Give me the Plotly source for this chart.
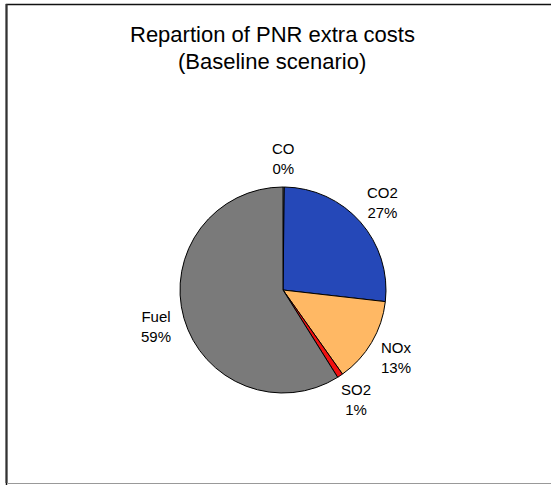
import math

import plotly.graph_objects as go

# Data
labels = ["CO", "CO2", "NOx", "SO2", "Fuel"]
values = [0.2, 26.6, 13.4, 0.9, 58.9]
colors = ["#FFFFFF", "#2548B8", "#FFB864", "#F01010", "#7A7A7A"]
title_lines = ["Repartion of PNR extra costs", "(Baseline scenario)"]

W, H = 551, 485
FONT = "Liberation Sans, Arial, sans-serif"

cx, cy = 283, 290  # pie centre in px
r = 103
label_dist = 132  # distance of label centres from the pie centre, px


def px(x):
    return x / W


def py(y):
    return 1 - y / H


fig = go.Figure()
fig.add_trace(go.Pie(
    labels=labels,
    values=values,
    sort=False,
    direction="clockwise",
    rotation=0,
    marker=dict(colors=colors, line=dict(color="#000000", width=1)),
    textinfo="none",
    hoverinfo="label+percent",
    showlegend=False,
    domain=dict(x=[px(cx - r), px(cx + r)], y=[py(cy + r), py(cy - r)]),
))

# Excel-style labels sitting outside each slice's mid angle
total = sum(values)
annotations = []
acc = 0.0
for lab, v in zip(labels, values):
    mid = (acc + v / 2) / total * 2 * math.pi
    acc += v
    lx = cx + label_dist * math.sin(mid)
    ly = cy - label_dist * math.cos(mid)
    annotations.append(dict(
        text=f"{lab}<br>{round(v / total * 100)}%", x=px(lx), y=py(ly),
        xref="paper", yref="paper", xanchor="center", yanchor="middle",
        showarrow=False, align="center",
        font=dict(family=FONT, size=15, color="#000000"),
    ))

for i, t in enumerate(title_lines):
    annotations.append(dict(
        text=t, x=px(272), y=py(35 + 26 * i), xref="paper", yref="paper",
        xanchor="center", yanchor="middle", showarrow=False,
        font=dict(family=FONT, size=22, color="#000000"),
    ))

fig.update_layout(
    width=W, height=H,
    margin=dict(l=0, r=0, t=0, b=0),
    paper_bgcolor="white",
    annotations=annotations,
    shapes=[
        # chart frame (right side runs off the page)
        dict(type="rect", xref="paper", yref="paper", x0=px(6.5), x1=px(560),
             y0=py(495), y1=py(4.5), line=dict(color="#111111", width=1.5),
             fillcolor="rgba(0,0,0,0)"),
        dict(type="line", xref="paper", yref="paper", x0=px(6.5), x1=px(6.5),
             y0=py(483), y1=py(4), line=dict(color="#333333", width=2)),
        dict(type="line", xref="paper", yref="paper", x0=px(7.5), x1=1,
             y0=py(483.5), y1=py(483.5), line=dict(color="#999999", width=1)),
    ],
)

fig.write_html("out.html", config={"displayModeBar": False},
               post_script="document.body.style.margin='0';")
